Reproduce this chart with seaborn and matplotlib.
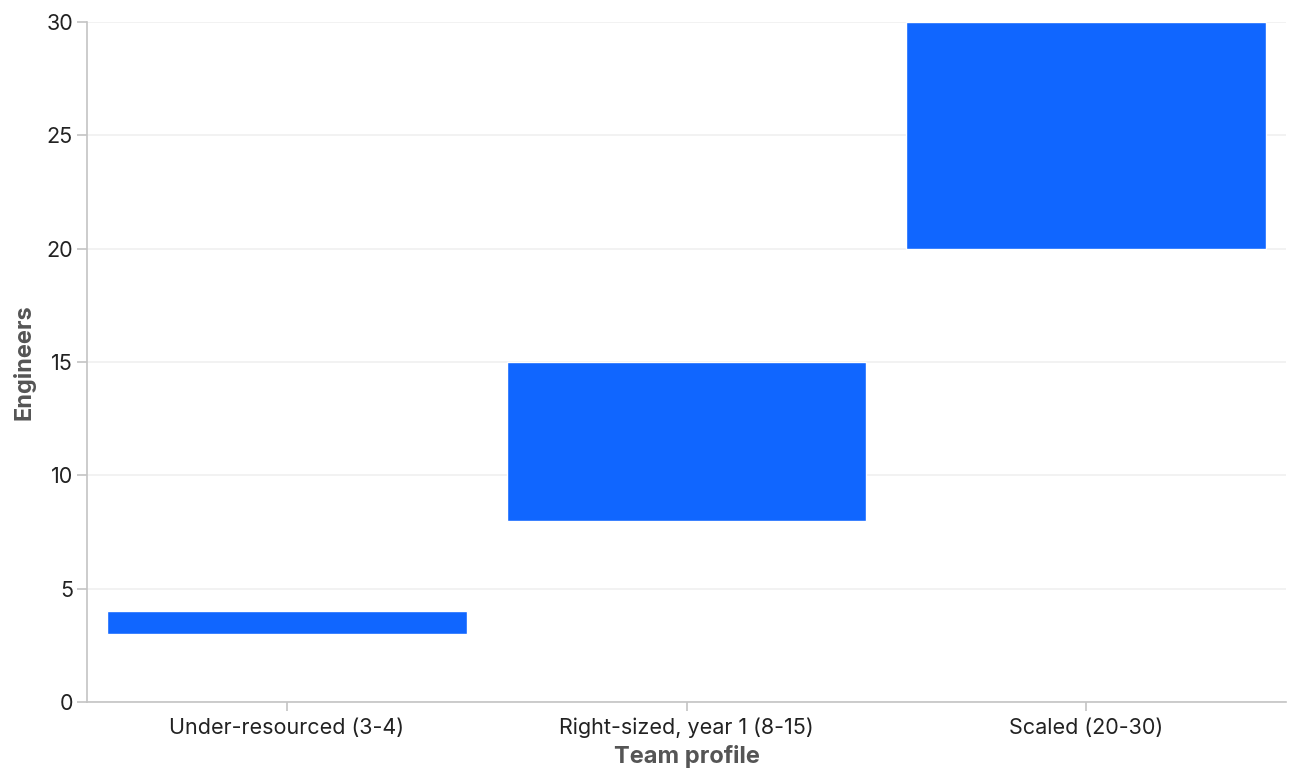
import matplotlib
matplotlib.use("Agg")
import matplotlib.pyplot as plt
import seaborn as sns
import pandas as pd

categories = ["Under-resourced (3-4)", "Right-sized, year 1 (8-15)", "Scaled (20-30)"]
low = [3, 8, 20]
high = [4, 15, 30]
y_ticks = [0, 5, 10, 15, 20, 25, 30]

df = pd.DataFrame({"profile": categories, "low": low, "high": high})
df["span"] = df["high"] - df["low"]

sns.set_theme(style="white")
plt.rcParams["font.family"] = ["Inter", "DejaVu Sans"]

fig = plt.figure(figsize=(12.96, 7.78), dpi=100)
ax = fig.add_axes([87/1296, 76/778, 1199/1296, 680/778])

sns.barplot(data=df, x="profile", y="span", bottom=df["low"], color="#1066FF",
            saturation=1, width=0.9, ax=ax, zorder=3)

ax.set_xlim(-0.5, 2.5)
ax.set_ylim(0, 30)
ax.set_yticks(y_ticks)
ax.yaxis.grid(True, color="#f0f0f0", linewidth=1.2, zorder=0)
ax.xaxis.grid(False)
ax.set_axisbelow(True)

for s in ["top", "right"]:
    ax.spines[s].set_visible(False)
for s in ["left", "bottom"]:
    ax.spines[s].set_color("#c4c4c4")
    ax.spines[s].set_linewidth(1.2)

ax.tick_params(axis="both", which="both", bottom=True, left=True, width=1.2,
               color="#c4c4c4", labelsize=15.5, labelcolor="#222222")
ax.tick_params(axis="y", length=7, pad=3)
ax.tick_params(axis="x", length=6.5, pad=5)
ax.set_xlabel("Team profile", fontsize=17, fontweight="bold", color="#555555", labelpad=5)
ax.set_ylabel("Engineers", fontsize=17, fontweight="bold", color="#555555", labelpad=8)

fig.savefig("out.png", dpi=100)
